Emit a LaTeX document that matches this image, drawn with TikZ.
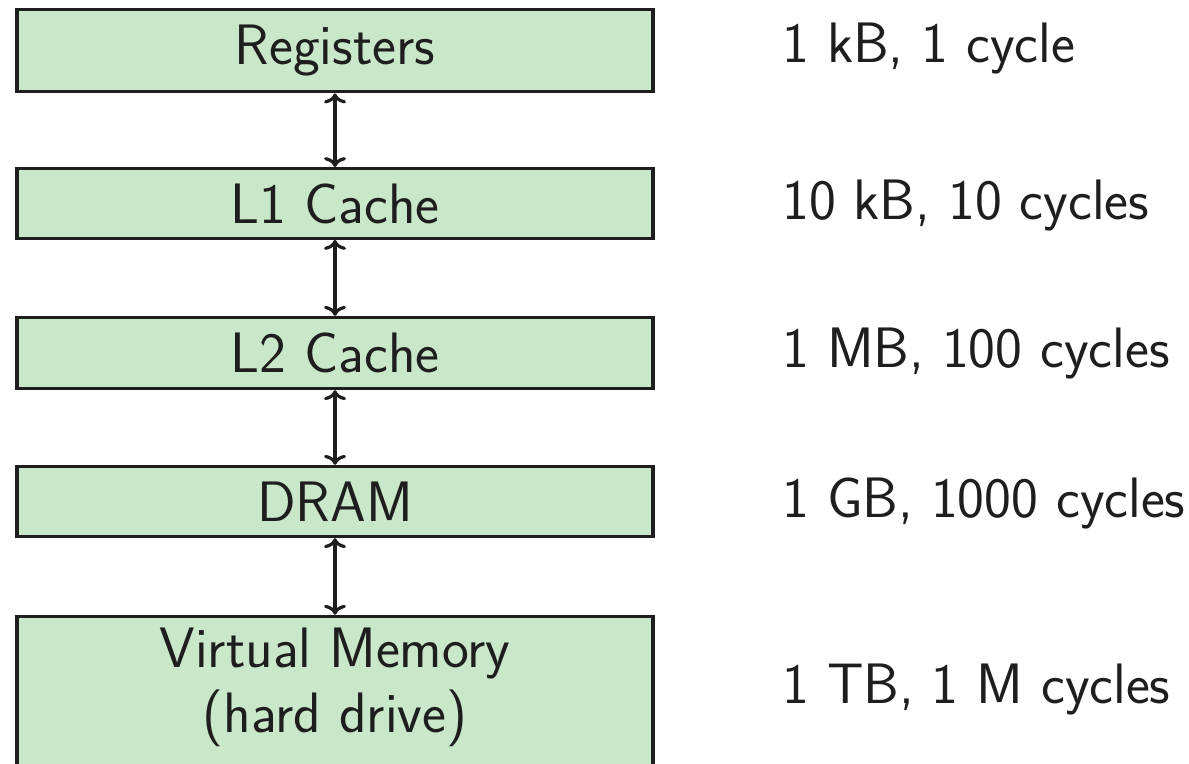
\documentclass[tikz,border=0pt]{standalone}
\usetikzlibrary{arrows.meta}
\definecolor{boxgreen}{RGB}{201,232,201}
\definecolor{inkc}{RGB}{30,30,30}
\tikzset{
  membox/.style={draw=inkc, fill=boxgreen, line width=1.7pt, minimum width=318pt, inner sep=0pt, text=inkc, font=\sffamily\fontsize{28.5}{32.5}\selectfont},
  costlabel/.style={anchor=base west, inner sep=0pt, text=inkc, font=\sffamily\fontsize{28.5}{32.5}\selectfont},
  link/.style={{To[width=11pt,length=5pt]}-{To[width=11pt,length=5pt]}, line width=1.6pt, draw=inkc}
}
\begin{document}
\begin{tikzpicture}[x=0.5pt,y=-0.5pt]
\clip (0,0) rectangle (1189,764);
\fill[white] (0,0) rectangle (1189,764);
\node[membox, minimum height=41.25pt] (reg) at (335,50.5) {Registers};
\node[membox, minimum height=34.75pt] (l1) at (335,203.5) {L1 Cache};
\node[membox, minimum height=35.5pt] (l2) at (335,353) {L2 Cache};
\node[membox, minimum height=35pt] (dram) at (335,501.5) {DRAM};
\node[membox, minimum height=95pt, anchor=north] (vm) at (335,614.75) {};
\node[inner sep=0pt, align=center, text=inkc, font=\sffamily\fontsize{28.5}{32.5}\selectfont] (vmtext) at (335,687) {Virtual Memory\\(hard drive)};
\draw[link] (reg.south) -- (l1.north);
\draw[link] (l1.south) -- (l2.north);
\draw[link] (l2.south) -- (dram.north);
\draw[link] (dram.south) -- (vm.north);
\node[costlabel] (c1) at (782,63) {1 kB, 1 cycle};
\node[costlabel] (c2) at (782,220) {10 kB, 10 cycles};
\node[costlabel] (c3) at (782,368) {1 MB, 100 cycles};
\node[costlabel] (c4) at (782,517) {1 GB, 1000 cycles};
\node[costlabel] (c5) at (782,703) {1 TB, 1 M cycles};
\end{tikzpicture}
\end{document}
